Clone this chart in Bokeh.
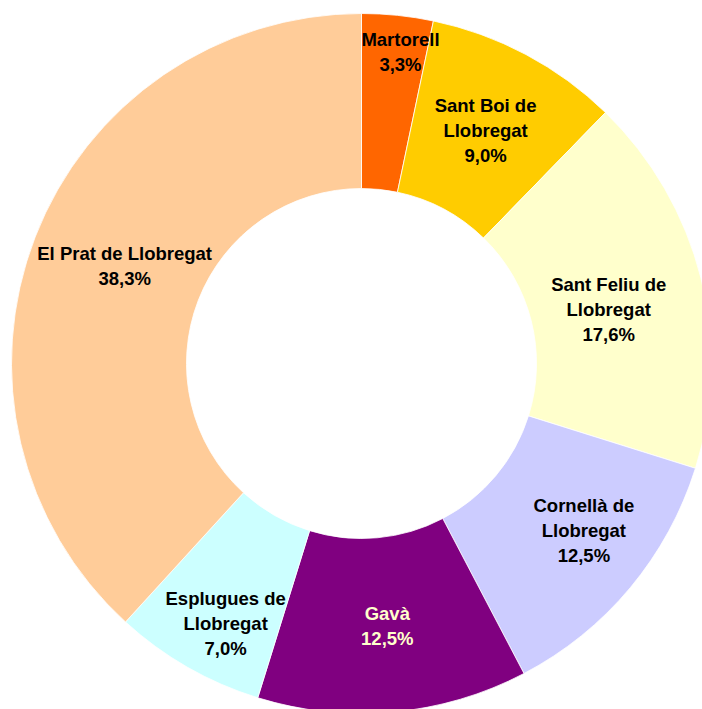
import math
from bokeh.plotting import figure
from bokeh.models import Range1d, ColumnDataSource
from bokeh.core.properties import value
from bokeh.embed import file_html
from bokeh.resources import INLINE

# ---- data ----
names = ["Martorell", "Sant Boi de\nLlobregat", "Sant Feliu de\nLlobregat",
         "Cornellà de\nLlobregat", "Gavà", "Esplugues de\nLlobregat",
         "El Prat de Llobregat"]
shares = [3.3, 9.0, 17.6, 12.5, 12.5, 7.0, 38.3]
colors = ["#FF6600", "#FFCC00", "#FFFFCC", "#CCCCFF", "#800080", "#CCFFFF", "#FFCC99"]
text_colors = ["#000000", "#000000", "#000000", "#000000", "#FFFFCC", "#000000", "#000000"]

# ---- layout ----
W, H = 702, 709
cx, cy = 361, H - 363
R_out, R_in = 350, 175
label_r = [314, 264, 253, 278, 264, 293, 256]
label_da = [1.2, 0.0, 1.9, -3.0, -0.4, -2.2, 1.1]
line_gap = 25
FONT = "Liberation Sans"
FSIZE = "18.5px"

total = sum(shares)
starts, ends, mids = [], [], []
cum = 0.0
for v in shares:
    a0 = cum / total * 2 * math.pi
    cum += v
    a1 = cum / total * 2 * math.pi
    starts.append(math.pi / 2 - a0)
    ends.append(math.pi / 2 - a1)
    mids.append((a0 + a1) / 2)

p = figure(width=W, height=H, x_range=Range1d(0, W), y_range=Range1d(0, H),
           output_backend="svg", toolbar_location=None, min_border=0)
p.axis.visible = False
p.grid.visible = False
p.outline_line_color = None
p.background_fill_color = "white"

src = ColumnDataSource(dict(x=[cx] * len(shares), y=[cy] * len(shares),
                            s=starts, e=ends, c=colors))
p.annular_wedge(x="x", y="y", inner_radius=R_in, outer_radius=R_out,
                start_angle="s", end_angle="e", direction="clock",
                fill_color="c", line_color="white", line_width=0.8, source=src)

tx, ty, tt, tc = [], [], [], []
for i, (nm, v) in enumerate(zip(names, shares)):
    a = mids[i] + math.radians(label_da[i])
    lx = cx + label_r[i] * math.sin(a)
    ly = cy + label_r[i] * math.cos(a)
    lines = nm.split("\n") + [f"{v:.1f}".replace(".", ",") + "%"]
    n = len(lines)
    for j, ln in enumerate(lines):
        tx.append(lx)
        ty.append(ly - (j - (n - 1) / 2) * line_gap)
        tt.append(ln)
        tc.append(text_colors[i])

p.text(x=tx, y=ty, text=tt, text_color=tc, text_align="center",
       text_baseline="middle", text_font=value(FONT), text_font_size=FSIZE,
       text_font_style="bold")

open("out.html", "w").write(file_html(p, INLINE))
